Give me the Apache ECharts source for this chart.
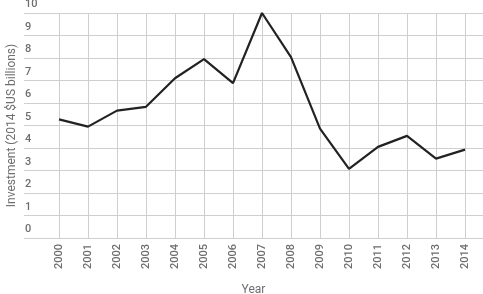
<!DOCTYPE html>
<html>
<head>
<meta charset="utf-8">
<script src="https://cdn.jsdelivr.net/npm/echarts@6/dist/echarts.min.js"></script>
<style>
html,body{margin:0;padding:0;background:#fff;}
#chart{width:483px;height:294px;}
</style>
</head>
<body>
<div id="chart"></div>
<script>
var years = ['2000','2001','2002','2003','2004','2005','2006','2007','2008','2009','2010','2011','2012','2013','2014'];
var investment = [5.27, 4.95, 5.66, 5.83, 7.1, 7.95, 6.88, 10.0, 8.04, 4.86, 3.07, 4.05, 4.54, 3.53, 3.93];
var yMin = 0;
var yMax = 10;

window.onload = function ()
{
    var myChart = echarts.init(document.getElementById('chart'));
    var grey = '#6e6e6e';
    var option = {
        backgroundColor: '#fff',
        animation: false,
        textStyle: { fontFamily: 'Roboto' },
        grid: [
            // wide grid: horizontal grid lines and axis names
            { left: 24, right: 0, top: 13, bottom: 56, outerBoundsMode: 'none', containLabel: false },
            // plot grid: categories and the line
            { left: 59, right: 18, top: 13, bottom: 56, outerBoundsMode: 'none', containLabel: false }
        ],
        xAxis: [
            {
                gridIndex: 0,
                type: 'value',
                min: 0,
                max: 1,
                name: 'Year',
                nameLocation: 'middle',
                nameGap: 46,
                nameMoveOverlap: false,
                nameTextStyle: { color: grey, fontSize: 12 },
                axisLine: { show: false },
                axisTick: { show: false },
                axisLabel: { show: false },
                splitLine: { show: false }
            },
            {
                gridIndex: 1,
                type: 'category',
                data: years,
                boundaryGap: false,
                axisLine: { show: false },
                axisTick: { show: false },
                axisLabel: { rotate: 90, color: grey, fontSize: 11, fontWeight: 500, margin: 6, interval: 0 },
                splitLine: { show: true, lineStyle: { color: '#cfcfcf', width: 1 } }
            }
        ],
        yAxis: [
            {
                gridIndex: 0,
                type: 'value',
                min: yMin,
                max: yMax,
                interval: 1,
                name: 'Investment (2014 $US billions)',
                nameLocation: 'middle',
                nameGap: 6,
                nameMoveOverlap: false,
                nameTextStyle: { color: grey, fontSize: 12 },
                axisLine: { show: false },
                axisTick: { show: false },
                axisLabel: {
                    inside: true,
                    margin: 1,
                    color: grey,
                    fontSize: 11,
                    fontWeight: 500,
                    verticalAlign: 'bottom',
                    padding: [0, 0, 3, 0]
                },
                splitLine: { show: true, lineStyle: { color: '#cfcfcf', width: 1 } }
            },
            {
                gridIndex: 1,
                type: 'value',
                min: yMin,
                max: yMax,
                show: false
            }
        ],
        series: [
            {
                type: 'line',
                xAxisIndex: 1,
                yAxisIndex: 1,
                data: investment,
                showSymbol: false,
                lineStyle: { color: '#222', width: 2.2 },
                itemStyle: { color: '#222' }
            }
        ]
    };
    myChart.setOption(option);
};
</script>
</body>
</html>
